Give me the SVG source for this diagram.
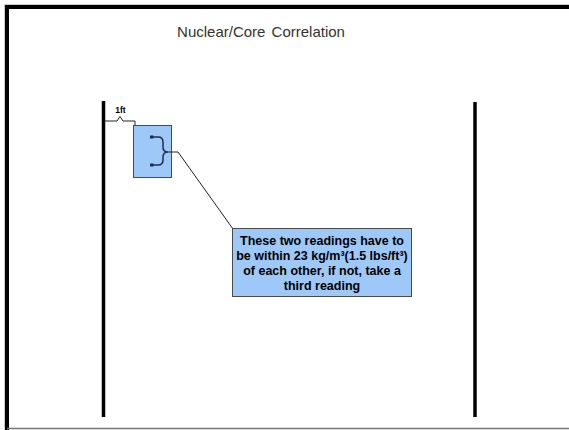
<svg xmlns="http://www.w3.org/2000/svg" width="569" height="430" viewBox="0 0 569 430">
<style>
.bar{stroke:#000;stroke-width:3.5;fill:none}
.box{fill:#9dc8f7;stroke:#4a4a4a;stroke-width:1}
.brace{stroke:#1e2f4f;stroke-width:1.5;fill:none}
.thin{stroke:#222;stroke-width:1;fill:none}
.title{font-family:"Liberation Sans",Arial,sans-serif;font-size:15px;fill:#333;word-spacing:2px}
.note{font-family:"Liberation Sans",Arial,sans-serif;font-size:12.5px;font-weight:bold;fill:#000;text-anchor:middle}
.small{font-family:"Liberation Sans",Arial,sans-serif;font-size:8.5px;font-weight:bold;fill:#000;text-anchor:middle}
</style>
<rect x="0" y="0" width="569" height="430" fill="#fff"/>
<g id="frame">
<path d="M4.5 430 V4.5 H569" stroke="#ccc" stroke-width="1" fill="none"/>
<rect x="5" y="5" width="564" height="4" fill="#000"/>
<rect x="5" y="5" width="4" height="425" fill="#000"/>
<line x1="7" y1="428.5" x2="569" y2="428.5" stroke="#777" stroke-width="1.5"/>
</g>
<g id="title"><text class="title" x="261" y="37" text-anchor="middle">Nuclear/Core Correlation</text></g>
<g id="left-wall"><line class="bar" x1="103.5" y1="101" x2="103.5" y2="417"/></g>
<g id="right-wall"><line class="bar" x1="475" y1="102" x2="475" y2="417"/></g>
<g id="dimension">
<path class="thin" d="M105 121 H117 L120 116.5 L123 121 H135 V125"/>
<text class="small" x="120.5" y="113">1ft</text>
</g>
<g id="gauge">
<rect class="box" x="133.5" y="125.5" width="38" height="52"/>
<path class="brace" d="M152 137 H158 Q163 137 163 142 V147 Q163 152 168 152 Q163 152 163 157 V160 Q163 165 158 165 H152"/>
<rect x="150" y="135.5" width="3.5" height="3" fill="#1e2f4f"/>
<rect x="150" y="163.5" width="3.5" height="3" fill="#1e2f4f"/>
</g>
<g id="connectors">
<path class="thin" d="M168 152 H178 L233 229"/>
</g>
<g id="callout">
<rect class="box" x="232.5" y="228.5" width="179" height="68"/>
<text class="note" x="322" y="245">These two readings have to</text>
<text class="note" x="322" y="260">be within 23 kg/m³(1.5 lbs/ft³)</text>
<text class="note" x="322" y="275">of each other, if not, take a</text>
<text class="note" x="322" y="290">third reading</text>
</g>
</svg>
